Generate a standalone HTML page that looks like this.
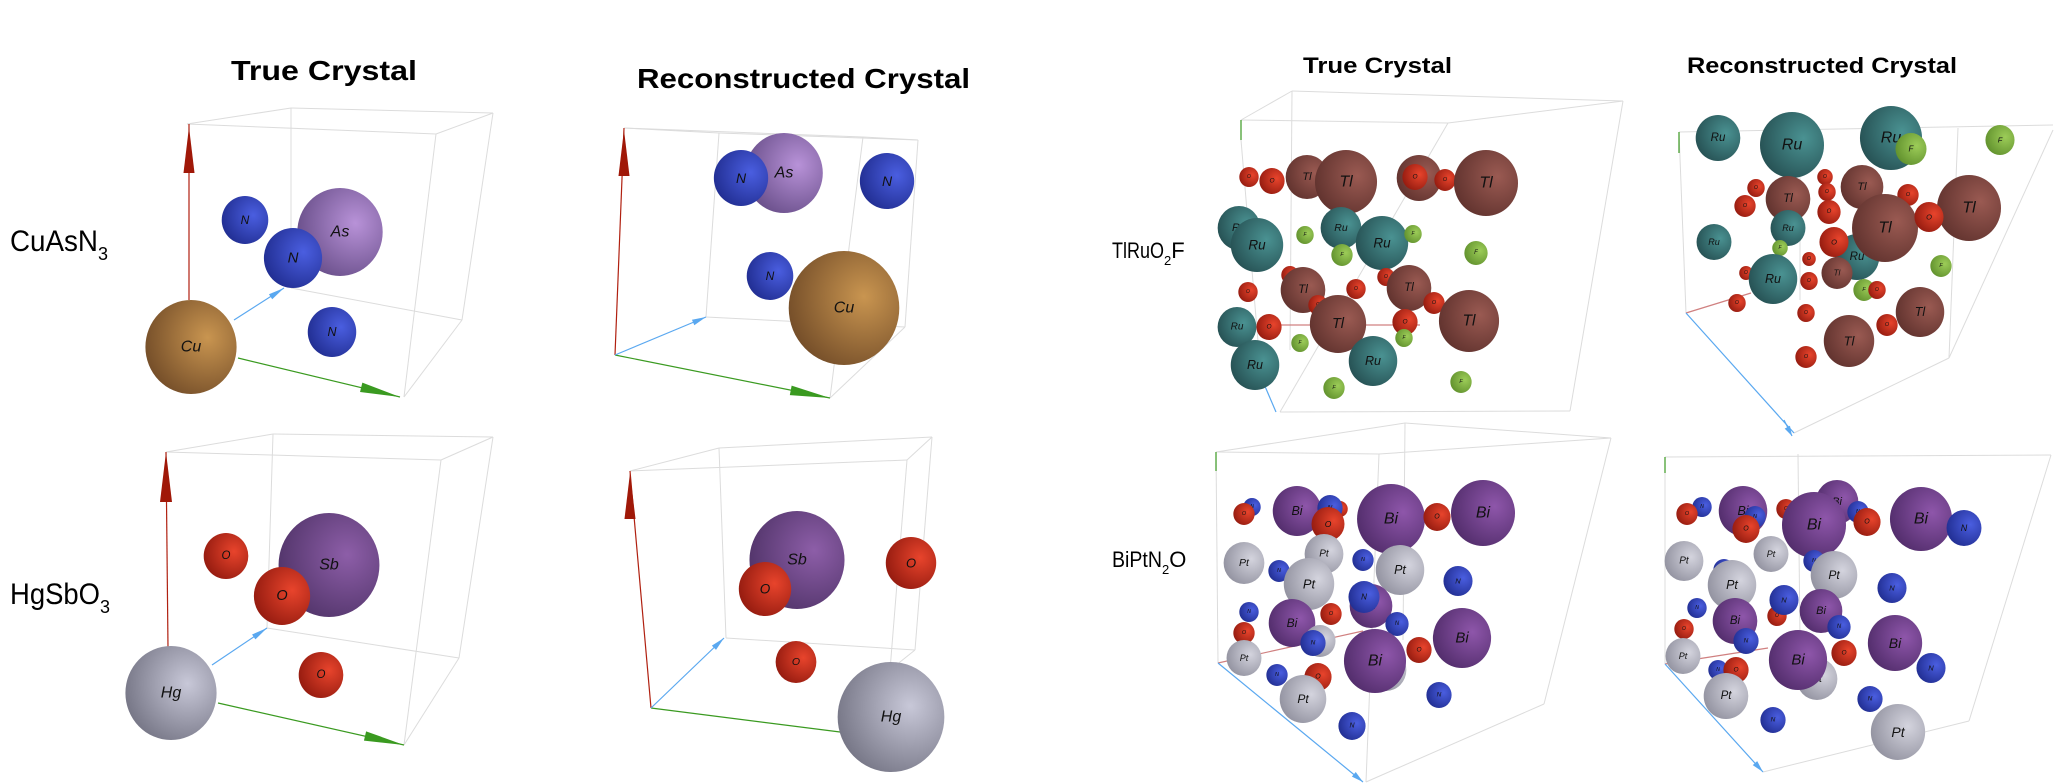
<!DOCTYPE html>
<html><head><meta charset="utf-8"><style>
html,body{margin:0;padding:0;background:#fff;}
svg{display:block;}
.ttl{font-family:"Liberation Sans",sans-serif;font-weight:bold;fill:#000;}
.frm{font-family:"Liberation Sans",sans-serif;fill:#000;}
.al{font-family:"Liberation Sans",sans-serif;font-style:italic;fill:#111;text-anchor:middle;dominant-baseline:central;}
</style></head><body>
<svg id="fig" width="2054" height="784" viewBox="0 0 2054 784" xmlns="http://www.w3.org/2000/svg">
<defs id="defs"></defs>
<g>
<text class="ttl" x="231" y="80" font-size="28" textLength="186" lengthAdjust="spacingAndGlyphs">True Crystal</text>
<text class="ttl" x="637" y="88" font-size="28" textLength="333" lengthAdjust="spacingAndGlyphs">Reconstructed Crystal</text>
<text class="ttl" x="1303" y="73" font-size="22" textLength="149" lengthAdjust="spacingAndGlyphs">True Crystal</text>
<text class="ttl" x="1687" y="73" font-size="22" textLength="270" lengthAdjust="spacingAndGlyphs">Reconstructed Crystal</text>
</g>
<g>
<text class="frm" x="10" y="251" font-size="30"><tspan textLength="88" lengthAdjust="spacingAndGlyphs">CuAsN</tspan><tspan font-size="18" dy="9">3</tspan></text>
<text class="frm" x="10" y="604" font-size="30"><tspan textLength="90" lengthAdjust="spacingAndGlyphs">HgSbO</tspan><tspan font-size="18" dy="9">3</tspan></text>
<text class="frm" x="1112" y="258" font-size="22"><tspan textLength="52" lengthAdjust="spacingAndGlyphs">TlRuO</tspan><tspan font-size="13" dy="7">2</tspan><tspan dy="-7">F</tspan></text>
<text class="frm" x="1112" y="567" font-size="22"><tspan textLength="50" lengthAdjust="spacingAndGlyphs">BiPtN</tspan><tspan font-size="13" dy="7">2</tspan><tspan dy="-7">O</tspan></text>
</g>
<g id="boxes"></g>
<g id="atoms"></g>
</svg>
<script>
// element colours [light, dark]
const elementColors = {
  Cu:["#c99550","#6a4524"], As:["#b892d8","#5f4680"], N:["#4a5ee0","#1c2888"],
  O:["#e8442c","#8a160c"], Hg:["#c8c8d8","#6c6c7c"], Sb:["#8d5ea8","#4a2f62"],
  Tl:["#9a5a52","#5a2e2a"], Ru:["#4a9292","#22494c"], F:["#9ccc58","#5a8a28"],
  Bi:["#8e56aa","#4b2864"], Pt:["#d4d4de","#8a8a98"]
};
// atoms: [element, x, y, radius]
const cuasn3True = [["Cu",191,347,47],["N",245,220,24],["As",340,232,44],["N",293,258,30],["N",332,332,25]];
const cuasn3Recon = [["As",784,173,40],["N",741,178,28],["N",887,181,28],["N",770,276,24],["Cu",844,308,57]];
const hgsbo3True = [["Sb",329,565,52],["O",226,556,23],["O",282,596,29],["O",321,675,23],["Hg",171,693,47]];
const hgsbo3Recon = [["Sb",797,560,49],["O",765,589,27],["O",911,563,26],["O",796,662,21],["Hg",891,717,55]];
const tlruo2fTrue = [
 ["O",1249,177,10],["Tl",1307,177,22],["O",1272,181,13],["Tl",1346,182,32],["Tl",1419,178,23],["O",1415,177,13],["O",1445,180,11],["Tl",1486,183,33],
 ["Ru",1239,228,22],["Ru",1257,245,27],["Ru",1341,228,21],["Ru",1382,243,27],["F",1305,235,9],["F",1342,255,11],["F",1413,234,9],["F",1476,253,12],
 ["O",1290,275,9],["O",1386,277,9],["Tl",1303,290,23],["Tl",1409,288,23],["O",1248,292,10],["O",1356,289,10],["O",1318,305,10],["O",1434,303,11],
 ["Ru",1237,327,20],["O",1269,327,13],["Tl",1338,324,29],["O",1405,322,13],["Tl",1469,321,31],["F",1300,343,9],["F",1404,338,9],
 ["Ru",1255,365,25],["Ru",1373,361,25],["F",1334,388,11],["F",1461,382,11]];
const tlruo2fRecon = [
 ["Ru",1718,138,23],["Ru",1792,145,33],["Ru",1891,138,32],["F",1911,149,16],["F",2000,140,15],
 ["O",1825,177,8],["O",1756,188,9],["Tl",1788,199,23],["O",1827,192,9],["Tl",1862,187,22],["O",1745,206,11],["O",1829,212,12],["O",1908,195,11],
 ["Tl",1969,208,33],["Ru",1788,228,18],["Ru",1714,242,18],["F",1780,248,8],["Ru",1857,257,23],["Tl",1837,273,16],["Tl",1885,228,34],["O",1929,217,15],["O",1834,242,15],
 ["O",1809,259,7],["O",1746,273,7],["O",1809,281,9],["Ru",1773,279,25],["F",1941,266,11],["F",1864,290,11],["O",1877,290,9],["O",1737,303,9],
 ["Tl",1920,312,25],["O",1806,313,9],["O",1887,325,11],["Tl",1849,341,26],["O",1806,357,11]];
const biptn2oTrue = [
 ["N",1252,507,9],["O",1244,514,11],["Bi",1297,511,25],["O",1340,509,8],["N",1330,508,13],["O",1328,524,17],["Bi",1391,519,35],["O",1437,517,14],["Bi",1483,513,33],
 ["Pt",1244,563,21],["Pt",1324,554,20],["N",1279,571,11],["N",1363,560,11],["Pt",1400,570,25],["Pt",1309,584,26],["N",1458,581,15],
 ["N",1249,612,10],["Bi",1292,623,24],["O",1331,614,11],["Bi",1371,606,22],["N",1364,597,16],["N",1397,624,12],["O",1244,633,11],
 ["Pt",1320,641,16],["N",1313,643,13],["Bi",1462,638,30],["Pt",1244,658,18],["O",1419,650,13],["Pt",1386,670,21],["Bi",1375,661,32],
 ["N",1277,675,11],["O",1318,677,14],["Pt",1303,699,24],["N",1439,695,13],["N",1352,726,14]];
const biptn2oRecon = [
 ["N",1702,507,10],["O",1687,514,11],["Bi",1743,511,25],["N",1755,517,11],["O",1746,529,14],["O",1786,509,10],["Bi",1837,502,22],["Bi",1814,525,33],
 ["N",1858,512,11],["O",1867,522,14],["Bi",1921,519,32],["N",1964,528,18],
 ["Pt",1684,561,20],["Pt",1771,554,18],["N",1724,570,11],["N",1814,561,11],["Pt",1834,575,24],["Pt",1732,585,25],["N",1892,588,15],
 ["N",1697,608,10],["Bi",1735,621,23],["O",1777,616,10],["Bi",1821,611,22],["N",1784,600,15],["N",1839,627,12],["O",1684,629,10],
 ["N",1746,641,13],["Bi",1895,643,28],["Pt",1683,656,18],["O",1844,653,13],["Pt",1817,679,21],["Bi",1798,660,30],
 ["N",1718,670,10],["O",1736,670,13],["N",1931,668,15],["Pt",1726,696,23],["N",1870,699,13],["N",1773,720,13],["Pt",1898,732,28]];

// box edges: [x1,y1,x2,y2]; axes: [x1,y1,x2,y2,color]
const boxEdges = [
 [187,124,291,108],[291,108,493,113],[493,113,436,134],[436,134,187,124],[189,124,189,300],[291,108,291,288],[493,113,462,320],[436,134,404,397],[404,397,462,320],[462,320,291,288],
 [624,128,719,133],[719,133,918,140],[918,140,863,137],[624,128,863,137],[719,133,706,317],[918,140,905,327],[863,137,830,398],[830,398,905,327],[905,327,706,317],
 [166,452,273,434],[273,434,493,437],[493,437,441,460],[441,460,166,452],[273,434,267,628],[493,437,459,658],[441,460,404,745],[404,745,459,658],[459,658,267,628],
 [630,471,719,448],[719,448,932,437],[932,437,907,460],[907,460,630,471],[719,448,726,638],[932,437,915,650],[907,460,890,670],[726,638,915,650],[915,650,890,670],
 [1241,120,1292,91],[1292,91,1623,101],[1623,101,1448,123],[1448,123,1241,120],[1241,140,1261,377],[1623,101,1570,411],[1448,123,1280,412],[1280,412,1570,411],[1292,91,1290,350],
 [1679,132,2053,125],[1679,132,1686,313],[2053,130,1949,358],[1949,358,1794,433],[1800,128,1800,300],[1958,128,1949,358],
 [1216,452,1405,423],[1405,423,1611,438],[1611,438,1379,454],[1379,454,1216,452],[1216,452,1218,663],[1611,438,1544,704],[1379,454,1366,782],[1544,704,1366,782],[1405,423,1403,640],
 [1665,457,2051,455],[1665,457,1665,664],[2051,455,1969,721],[1969,721,1763,772],[1798,454,1800,640]
];
const axes = [
 [189,300,189,124,"#b02010"],[238,358,400,397,"#3a9a20"],[234,320,284,288,"#5aa8f0"],
 [615,355,624,128,"#b02010"],[615,355,830,398,"#3a9a20"],[615,355,706,317,"#5aa8f0"],
 [168,648,166,452,"#b02010"],[218,703,404,745,"#3a9a20"],[212,665,267,628,"#5aa8f0"],
 [651,708,630,471,"#b02010"],[651,708,840,732,"#3a9a20"],[651,708,724,638,"#5aa8f0"],
 [1241,140,1241,120,"#3a9a20"],[1264,325,1420,325,"#d08080"],[1261,377,1276,412,"#5aa8f0"],
 [1679,153,1679,132,"#3a9a20"],[1686,313,1751,293,"#d08080"],[1686,313,1794,433,"#5aa8f0"],[1784,420,1792,436,"#5aa8f0"],
 [1216,471,1216,452,"#3a9a20"],[1218,663,1363,631,"#d08080"],[1218,663,1363,782,"#5aa8f0"],
 [1665,473,1665,457,"#3a9a20"],[1665,664,1768,648,"#d08080"],[1665,664,1763,772,"#5aa8f0"]
];
// arrowheads: [x, y, angleDeg, len, color]
const arrowHeads = [
 [189,127,-90,46,"#a01808"],[400,397,14,40,"#3a9a20"],[284,288,-33,16,"#5aa8f0"],
 [624,130,-90,46,"#a01808"],[830,398,11,40,"#3a9a20"],[706,317,-23,14,"#5aa8f0"],
 [166,452,-90,50,"#a01808"],[404,745,13,40,"#3a9a20"],[267,628,-34,16,"#5aa8f0"],
 [630,473,-90,46,"#a01808"],[724,638,-44,14,"#5aa8f0"],[1792,436,62,10,"#5aa8f0"],[1363,782,40,12,"#5aa8f0"],[1763,772,48,12,"#5aa8f0"]
];

const NS="http://www.w3.org/2000/svg";
const defs=document.getElementById('defs');
Object.keys(elementColors).forEach(function(el){
  const g=document.createElementNS(NS,'radialGradient');
  g.setAttribute('id','grad-'+el);
  g.setAttribute('cx','0.68');g.setAttribute('cy','0.4');g.setAttribute('r','0.8');
  const s1=document.createElementNS(NS,'stop');s1.setAttribute('offset','0');s1.setAttribute('stop-color',elementColors[el][0]);
  const s2=document.createElementNS(NS,'stop');s2.setAttribute('offset','1');s2.setAttribute('stop-color',elementColors[el][1]);
  g.appendChild(s1);g.appendChild(s2);defs.appendChild(g);
});
const boxes=document.getElementById('boxes');
boxEdges.forEach(function(e){
  const l=document.createElementNS(NS,'line');
  l.setAttribute('x1',e[0]);l.setAttribute('y1',e[1]);l.setAttribute('x2',e[2]);l.setAttribute('y2',e[3]);
  l.setAttribute('stroke','#dcdcdc');l.setAttribute('stroke-width','1');
  
  
  boxes.appendChild(l);
});
axes.forEach(function(a){
  const l=document.createElementNS(NS,'line');
  l.setAttribute('x1',a[0]);l.setAttribute('y1',a[1]);l.setAttribute('x2',a[2]);l.setAttribute('y2',a[3]);
  l.setAttribute('stroke',a[4]);l.setAttribute('stroke-width','1.2');
  
  
  boxes.appendChild(l);
});
arrowHeads.forEach(function(h){
  const p=document.createElementNS(NS,'polygon');
  const len=h[3],w=Math.max(3,len*0.12);
  p.setAttribute('points',(-len)+','+(-w)+' 0,0 '+(-len)+','+w);
  p.setAttribute('fill',h[4]);
  p.setAttribute('transform','translate('+h[0]+','+h[1]+') rotate('+h[2]+')');
  
  
  boxes.appendChild(p);
});
const atomsG=document.getElementById('atoms');
const panels=[["cuasn3-true",cuasn3True],["cuasn3-reconstructed",cuasn3Recon],["hgsbo3-true",hgsbo3True],["hgsbo3-reconstructed",hgsbo3Recon],
 ["tlruo2f-true",tlruo2fTrue],["tlruo2f-reconstructed",tlruo2fRecon],["biptn2o-true",biptn2oTrue],["biptn2o-reconstructed",biptn2oRecon]];
panels.forEach(function(p){
  const g=document.createElementNS(NS,'g');
  
  
  p[1].forEach(function(a){
    const c=document.createElementNS(NS,'ellipse');
    c.setAttribute('cx',a[1]);c.setAttribute('cy',a[2]);c.setAttribute('rx',a[3]*0.97);c.setAttribute('ry',a[3]);
    c.setAttribute('fill','url(#grad-'+a[0]+')');
    
    
    g.appendChild(c);
    const t=document.createElementNS(NS,'text');
    t.setAttribute('class','al');t.setAttribute('x',a[1]);t.setAttribute('y',a[2]);
    t.setAttribute('font-size',Math.max(5,Math.min(16,a[3]*0.5)));
    t.textContent=a[0];
    
    
    g.appendChild(t);
  });
  atomsG.appendChild(g);
});
</script>
</body></html>
